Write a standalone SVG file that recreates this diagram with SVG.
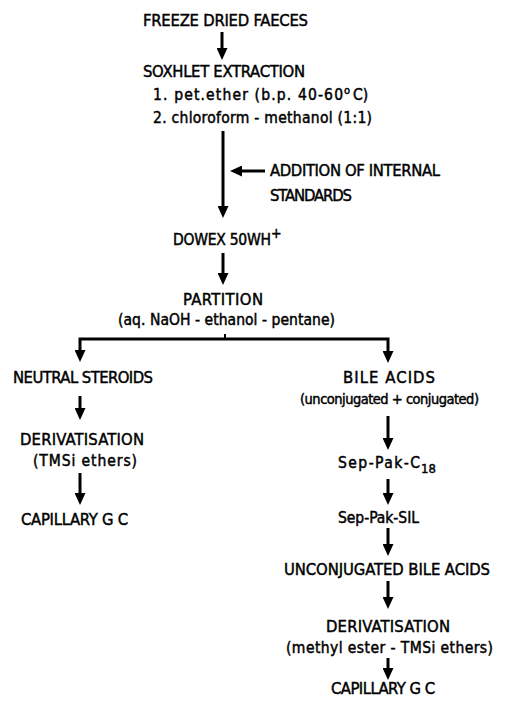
<svg xmlns="http://www.w3.org/2000/svg" width="509" height="701" viewBox="0 0 509 701">
<style>
text { font-family: "DejaVu Sans Condensed", "DejaVu Sans", sans-serif; font-size: 16.5px; fill: #000; stroke: #000; stroke-width: 0.45px; }
.lc { font-size: 15.5px; }
.sm { font-size: 11px; }
.conn { fill: none; stroke: #000; stroke-width: 3; marker-end: url(#ah); }
</style>
<defs>
<marker id="ah" markerWidth="12" markerHeight="11" refX="3" refY="5.5" orient="auto-start-reverse" markerUnits="userSpaceOnUse">
<path d="M0,0 L12,5.5 L0,11 z" fill="#000"/>
</marker>
</defs>
<rect width="509" height="701" fill="#fff"/>

<g id="connectors">
<line class="conn" x1="222" y1="32" x2="222" y2="51"/>
<line class="conn" x1="223" y1="131" x2="223" y2="209"/>
<line class="conn" x1="265" y1="171" x2="239" y2="171"/>
<line class="conn" x1="223" y1="253" x2="223" y2="276"/>
<path d="M80,353 V339 H388 V354" fill="none" stroke="#000" stroke-width="3" marker-start="url(#ah)" marker-end="url(#ah)"/>
<line x1="225" y1="334" x2="225" y2="339" stroke="#000" stroke-width="2"/>
<line class="conn" x1="80" y1="396" x2="80" y2="411"/>
<line class="conn" x1="80" y1="473" x2="80" y2="496"/>
<line class="conn" x1="388" y1="416" x2="388" y2="441"/>
<line class="conn" x1="388" y1="479" x2="388" y2="496"/>
<line class="conn" x1="388" y1="528" x2="388" y2="547"/>
<line class="conn" x1="388" y1="581" x2="388" y2="600"/>
<line class="conn" x1="388" y1="658" x2="388" y2="671"/>
</g>

<g id="freeze-dried-faeces">
<text x="143" y="26" textLength="165" lengthAdjust="spacing">FREEZE DRIED FAECES</text>
</g>
<g id="soxhlet-extraction">
<text x="143" y="77" textLength="162" lengthAdjust="spacing">SOXHLET EXTRACTION</text>
<text class="lc" x="153" y="100" textLength="190" lengthAdjust="spacing">1. pet.ether (b.p. 40-60</text>
<text class="sm" x="344" y="94">o</text>
<text class="lc" x="353" y="100">C)</text>
<text class="lc" x="153" y="123" textLength="219" lengthAdjust="spacing">2. chloroform - methanol (1:1)</text>
</g>
<g id="internal-standards">
<text x="270" y="176" textLength="170" lengthAdjust="spacing">ADDITION OF INTERNAL</text>
<text x="270" y="201" textLength="82" lengthAdjust="spacing">STANDARDS</text>
</g>
<g id="dowex">
<text x="173" y="245" textLength="98" lengthAdjust="spacing" style="font-size:15.5px">DOWEX 50WH</text>
<text x="271" y="238" style="font-size:14px">+</text>
</g>
<g id="partition">
<text x="183" y="305" textLength="80" lengthAdjust="spacing">PARTITION</text>
<text class="lc" x="118" y="325" textLength="217" lengthAdjust="spacing">(aq. NaOH - ethanol - pentane)</text>
</g>
<g id="neutral-steroids">
<text x="13" y="383" textLength="140" lengthAdjust="spacing">NEUTRAL STEROIDS</text>
</g>
<g id="derivatisation-ns">
<text x="20" y="445" textLength="124" lengthAdjust="spacing">DERIVATISATION</text>
<text class="lc" x="33" y="466" textLength="104" lengthAdjust="spacing">(TMSi ethers)</text>
</g>
<g id="capillary-gc-ns">
<text x="21" y="525" textLength="107" lengthAdjust="spacing">CAPILLARY G C</text>
</g>
<g id="bile-acids">
<text x="343" y="383" textLength="92" lengthAdjust="spacing">BILE ACIDS</text>
<text class="lc" x="300" y="404" textLength="179" lengthAdjust="spacing" style="font-size:14.5px">(unconjugated + conjugated)</text>
</g>
<g id="sep-pak-c18">
<text class="lc" x="338" y="468" textLength="82" lengthAdjust="spacing">Sep-Pak-C</text>
<text x="421" y="473" style="font-size:13px" textLength="15" lengthAdjust="spacing">18</text>
</g>
<g id="sep-pak-sil">
<text class="lc" x="338" y="523" textLength="81" lengthAdjust="spacing">Sep-Pak-SIL</text>
</g>
<g id="unconjugated-bile-acids">
<text x="284" y="575" textLength="206" lengthAdjust="spacing">UNCONJUGATED BILE ACIDS</text>
</g>
<g id="derivatisation-ba">
<text x="326" y="632" textLength="124" lengthAdjust="spacing">DERIVATISATION</text>
<text class="lc" x="286" y="653" textLength="207" lengthAdjust="spacing">(methyl ester - TMSi ethers)</text>
</g>
<g id="capillary-gc-ba">
<text x="331" y="694" textLength="104" lengthAdjust="spacing">CAPILLARY G C</text>
</g>
</svg>
